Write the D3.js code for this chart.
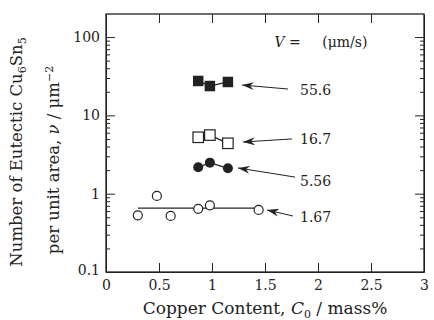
<!DOCTYPE html>
<html>
<head>
<meta charset="utf-8">
<script src="https://cdn.jsdelivr.net/npm/d3@7"></script>
<style>
  body { margin: 0; background: #fff; }
  svg { display: block; font-family: "DejaVu Serif", "Liberation Serif", serif; }
  .axis path, .axis line { stroke: #222; }
  .axis text { font-family: "DejaVu Serif", serif; font-size: 14px; fill: #222; }
</style>
</head>
<body>
<svg width="434" height="320"></svg>
<script>
// dữ liệu
const v556x = [0.87, 0.98, 1.15];   // 55.6 µm/s (filled square)
const v556y = [27.5, 23.7, 26.7];
const v167x = [0.87, 0.98, 1.15];   // 16.7 µm/s (open square)
const v167y = [5.25, 5.6, 4.4];
const v5x = [0.87, 0.98, 1.15];     // 5.56 µm/s (filled circle)
const v5y = [2.17, 2.49, 2.11];
const v1x = [0.3, 0.48, 0.61, 0.87, 0.98, 1.44]; // 1.67 µm/s (open circle)
const v1y = [0.53, 0.935, 0.52, 0.64, 0.71, 0.62];
const v1fit = 0.655;  // horizontal line for 1.67
const xTicks = [0, 0.5, 1, 1.5, 2, 2.5, 3];
const yTicks = [0.1, 1, 10, 100];
const speedLabels = ["55.6", "16.7", "5.56", "1.67"];

const svg = d3.select("svg");
const margin = { top: 14, right: 10, bottom: 48, left: 106 };
const width = 434 - margin.left - margin.right;
const height = 320 - margin.top - margin.bottom;
const chart = svg.append("g").attr("transform", `translate(${margin.left},${margin.top})`);

const x = d3.scaleLinear().domain([0, 3]).range([0, width]);
const y = d3.scaleLog().domain([0.1, 197]).range([height, 0]);

// minor ticks theo log
const minor = [];
[0.1, 1, 10, 100].forEach(d => {
  for (let k = 2; k <= 9; k++) if (d * k < 197) minor.push(d * k);
});

// trục dưới
chart.append("g").attr("class", "axis")
  .attr("transform", `translate(0,${height})`)
  .call(d3.axisBottom(x).tickValues(xTicks).tickSizeInner(-9).tickSizeOuter(0).tickPadding(5)
    .tickFormat(d => d))
  .call(g => g.selectAll("text").attr("dy", "0.95em"));
// trục trên
chart.append("g").attr("class", "axis")
  .call(d3.axisTop(x).tickValues(xTicks.slice(1, -1)).tickSize(-9).tickFormat(""))
  .call(g => g.select(".domain").remove());
// trục trái
chart.append("g").attr("class", "axis")
  .call(d3.axisLeft(y).tickValues(yTicks).tickSizeInner(-9).tickSizeOuter(0).tickPadding(6)
    .tickFormat(d => d3.format("~g")(d)))
  .call(g => g.selectAll("text").filter(d => d === 0.1).attr("dy", "0.15em"));
chart.append("g").attr("class", "axis")
  .call(d3.axisLeft(y).tickValues(minor).tickSize(-4).tickFormat(""))
  .call(g => g.select(".domain").remove());
// trục phải
chart.append("g").attr("class", "axis")
  .attr("transform", `translate(${width},0)`)
  .call(d3.axisRight(y).tickValues(yTicks).tickSizeInner(-9).tickSizeOuter(0).tickFormat(""));
chart.append("g").attr("class", "axis")
  .attr("transform", `translate(${width},0)`)
  .call(d3.axisRight(y).tickValues(minor).tickSize(-4).tickFormat(""))
  .call(g => g.select(".domain").remove());
// khung
chart.append("rect")
  .attr("width", width).attr("height", height)
  .attr("fill", "none").attr("stroke", "#222").attr("stroke-width", 1.3);

// đường nối
const line = d3.line().x(d => x(d[0])).y(d => y(d[1]));
const zip = (a, b) => a.map((d, i) => [d, b[i]]);
[[v556x, v556y], [v167x, v167y], [v5x, v5y]].forEach(s => {
  chart.append("path").attr("d", line(zip(s[0], s[1])))
    .attr("fill", "none").attr("stroke", "#222").attr("stroke-width", 1.3);
});
chart.append("line")
  .attr("x1", x(d3.min(v1x))).attr("x2", x(d3.max(v1x)))
  .attr("y1", y(v1fit)).attr("y2", y(v1fit))
  .attr("stroke", "#222").attr("stroke-width", 1.3);

// điểm
const sq = 10.5;
chart.selectAll(".s1").data(zip(v556x, v556y)).enter().append("rect")
  .attr("x", d => x(d[0]) - sq / 2).attr("y", d => y(d[1]) - sq / 2)
  .attr("width", sq).attr("height", sq).attr("fill", "#222");
chart.selectAll(".s2").data(zip(v167x, v167y)).enter().append("rect")
  .attr("x", d => x(d[0]) - sq / 2).attr("y", d => y(d[1]) - sq / 2)
  .attr("width", sq).attr("height", sq).attr("fill", "#fff").attr("stroke", "#222").attr("stroke-width", 1.2);
chart.selectAll(".c1").data(zip(v5x, v5y)).enter().append("circle")
  .attr("cx", d => x(d[0])).attr("cy", d => y(d[1])).attr("r", 5).attr("fill", "#222");
chart.selectAll(".c2").data(zip(v1x, v1y)).enter().append("circle")
  .attr("cx", d => x(d[0])).attr("cy", d => y(d[1])).attr("r", 4.5)
  .attr("fill", "#fff").attr("stroke", "#222").attr("stroke-width", 1.2);

// mũi tên và nhãn tốc độ
svg.append("defs").append("marker")
  .attr("id", "arr").attr("viewBox", "0 0 12 8").attr("refX", 0).attr("refY", 4)
  .attr("markerWidth", 12).attr("markerHeight", 8).attr("markerUnits", "userSpaceOnUse")
  .attr("orient", "auto")
  .append("path").attr("d", "M0,4 L12,0 L8,4 L12,8 Z").attr("fill", "#222");

const arrows = [
  { from: [1.717, 21.7], to: [1.283, 24.4], label: [1.83, 21.1] },
  { from: [1.755, 5.0], to: [1.292, 4.57], label: [1.83, 5.0] },
  { from: [1.783, 1.63], to: [1.245, 2.13], label: [1.83, 1.45] },
  { from: [1.764, 0.519], to: [1.519, 0.619], label: [1.83, 0.503] }
];
arrows.forEach((a, i) => {
  chart.append("line")
    .attr("x1", x(a.to[0])).attr("y1", y(a.to[1]))
    .attr("x2", x(a.from[0])).attr("y2", y(a.from[1]))
    .attr("stroke", "#222").attr("stroke-width", 1)
    .attr("marker-start", "url(#arr)");
  chart.append("text")
    .attr("x", x(a.label[0])).attr("y", y(a.label[1]))
    .attr("dy", "0.35em").attr("font-size", 14).attr("fill", "#222")
    .text(speedLabels[i]);
});

// V = (µm/s)
const vt = chart.append("text").attr("x", x(1.59)).attr("y", y(86)).attr("dy", "0.35em")
  .attr("font-size", 14).attr("fill", "#222");
vt.append("tspan").attr("font-style", "italic").text("V");
vt.append("tspan").text(" =");
chart.append("text").attr("x", x(2.04)).attr("y", y(86)).attr("dy", "0.35em")
  .attr("font-size", 14).attr("fill", "#222").text("(μm/s)");

// tên trục x
const xt = svg.append("text")
  .attr("x", margin.left + width / 2).attr("y", 314)
  .attr("text-anchor", "middle").attr("font-size", 17).attr("fill", "#222");
xt.append("tspan").text("Copper Content, ");
xt.append("tspan").attr("font-style", "italic").text("C");
xt.append("tspan").attr("font-size", 11).attr("dy", 4).text("0");
xt.append("tspan").attr("dy", -4).text(" / mass%");

// tên trục y (2 dòng)
const yt1 = svg.append("text")
  .attr("transform", "translate(22,152) rotate(-90)")
  .attr("text-anchor", "middle").attr("font-size", 16.5).attr("fill", "#222");
yt1.append("tspan").text("Number of Eutectic Cu");
yt1.append("tspan").attr("font-size", 11).attr("dy", 4).text("6");
yt1.append("tspan").attr("dy", -4).text("Sn");
yt1.append("tspan").attr("font-size", 11).attr("dy", 4).text("5");

const yt2 = svg.append("text")
  .attr("transform", "translate(59,160) rotate(-90)")
  .attr("text-anchor", "middle").attr("font-size", 16.5).attr("fill", "#222");
yt2.append("tspan").text("per unit area,  ");
yt2.append("tspan").attr("font-style", "italic").text("ν");
yt2.append("tspan").text(" / μm");
yt2.append("tspan").attr("font-size", 11).attr("dy", -6).text("−2");
</script>
</body>
</html>
